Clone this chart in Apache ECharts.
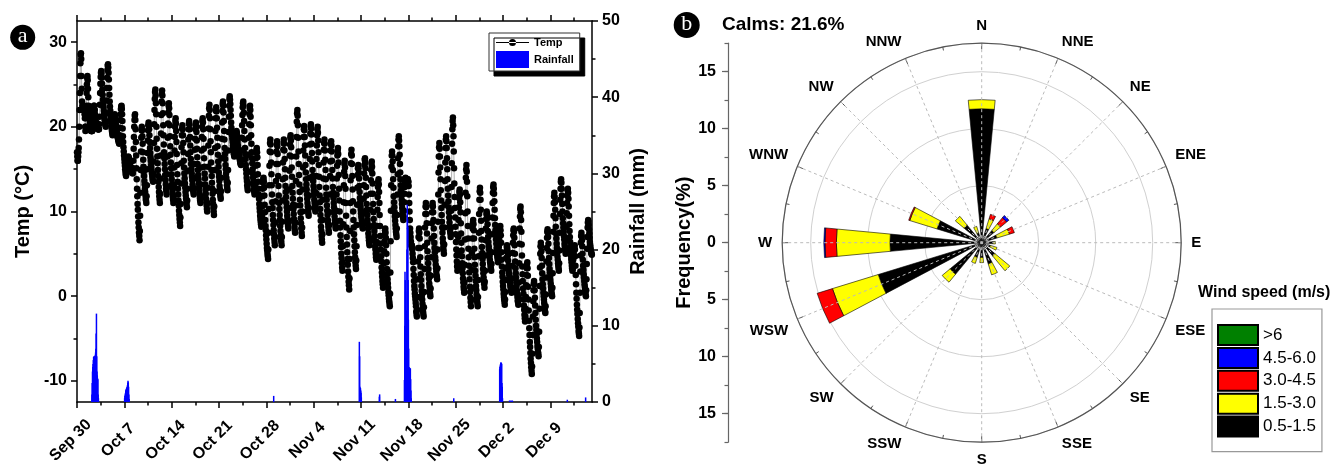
<!DOCTYPE html>
<html><head><meta charset="utf-8">
<script src="https://cdn.jsdelivr.net/npm/echarts@6/dist/echarts.min.js"></script>
<style>html,body{margin:0;padding:0;background:#fff}#c{width:1335px;height:468px}</style>
</head><body><div id="c"></div>
<script>
// ---------- DATA ----------
const xTickLabels = ['Sep 30','Oct 7','Oct 14','Oct 21','Oct 28','Nov 4','Nov 11','Nov 18','Nov 25','Dec 2','Dec 9'];
// hourly temperature (°C), starting Sep 30 00:00
const tempWeek1 = [
17,16.5,16,16,16.5,17,17.5,18.5,20,22,24,26,27.5,28.5,28.7,28,26,24.5,23,22.5,22,22,22,22,
22,22,22,21.5,21,20,19.5,20,21,22.5,24,25,25.8,26,25.5,24.5,23.5,22.5,22,21.5,21,21,20.5,20.5,
20,20,19.5,19.5,19.5,19.5,19.5,20,20.5,21,21.5,22,22.5,22.5,22,22,21.5,21,21,20.5,20.5,20,20,20,
20,20,19.7,19.7,19.7,19.7,19.7,20.3,21.2,22.6,24,25.1,25.9,26.4,26.6,26.3,25.8,25.1,24.4,23.8,23.2,22.7,22.3,21.9,
21.6,21.3,20.9,20.7,20.4,20.2,20,20.6,21.6,23.1,24.6,25.8,26.7,27.2,27.4,27,26.4,25.6,24.6,23.8,23,22.4,21.9,21.4,
21,20.6,20.2,19.8,19.5,19.3,19,19.2,19.6,20.1,20.6,21,21.3,21.4,21.5,21.3,21.1,20.7,20.3,20,19.7,19.4,19.2,19,
18.8,18.7,18.5,18.4,18.2,18.1,18,18.4,19,19.9,20.8,21.5,22.1,22.4,22.5,22.1,21.5,20.7,19.8,18.9,18.2,17.6,17.1,16.6];
const tempWeek2 = [
16.2,15.8,15.4,15,14.7,14.4,14.2,14.4,14.7,15.2,15.6,16,16.3,16.4,16.5,16.4,16.3,16.1,15.8,15.6,15.5,15.3,15.2,15.1,
15,14.9,14.8,14.7,14.6,14.6,14.5,15.1,16,17.4,18.8,20,20.8,21.3,21.5,20.8,19.7,18.2,16.6,15.1,13.8,12.7,11.8,10.9,
10.2,9.4,8.7,8.1,7.5,7.1,6.6,7.7,9.5,12.2,14.9,17.1,18.7,19.6,20,19.6,18.9,18,17,16.1,15.3,14.7,14.2,13.6,
13.2,12.7,12.3,11.9,11.5,11.3,11,11.8,13.1,15,16.9,18.4,19.6,20.2,20.5,20.2,19.7,19,18.2,17.5,16.9,16.4,16,15.5,
15.2,14.8,14.5,14.2,13.9,13.7,13.5,14.4,15.9,18.1,20.3,22,23.3,24.1,24.4,23.7,22.8,21.5,20,18.6,17.4,16.5,15.7,14.9,
14.2,13.5,12.9,12.3,11.8,11.4,11,12.1,13.9,16.6,19.2,21.4,23,23.9,24.3,23.7,22.8,21.6,20.2,19,17.9,17,16.3,15.6,
15,14.3,13.7,13.2,12.7,12.4,12,12.9,14.4,16.5,18.7,20.4,21.7,22.5,22.8,22.2,21.4,20.2,18.9,17.7,16.7,15.8,15.1,14.4];
const tempWeek3 = [
13.8,13.2,12.7,12.2,11.7,11.4,11,11.8,13.2,15.2,17.2,18.8,20,20.7,21,20.4,19.5,18.2,16.8,15.5,14.4,13.5,12.7,12,
11.3,10.7,10.1,9.6,9.1,8.7,8.3,9.3,10.9,13.3,15.7,17.6,19,19.8,20.2,19.7,19,18.1,17,16,15.2,14.5,13.9,13.3,
12.8,12.3,11.9,11.5,11.1,10.8,10.5,11.3,12.7,14.8,16.8,18.5,19.7,20.4,20.7,20.3,19.7,18.8,17.8,17,16.2,15.6,15,14.5,
14.1,13.7,13.2,12.9,12.5,12.3,12,12.7,13.9,15.6,17.3,18.6,19.7,20.2,20.5,20,19.4,18.4,17.4,16.4,15.6,14.9,14.3,13.8,
13.3,12.8,12.3,12,11.6,11.3,11,11.8,13.2,15.2,17.2,18.8,20,20.7,21,20.5,19.7,18.6,17.4,16.3,15.3,14.5,13.9,13.2,
12.6,12.1,11.5,11.1,10.7,10.3,10,11,12.8,15.3,17.8,19.8,21.3,22.2,22.6,22,21,19.7,18.3,17,15.8,14.9,14.2,13.4,
12.7,12.1,11.4,10.9,10.4,10,9.6,10.6,12.4,14.9,17.5,19.5,21,21.9,22.3,21.8,21,19.9,18.7,17.7,16.7,15.9,15.3,14.6];
const tempWeek4 = [
14.1,13.6,13,12.6,12.1,11.8,11.5,12.4,14,16.3,18.6,20.5,21.9,22.7,23,22.5,21.7,20.7,19.5,18.5,17.5,16.8,16.2,15.5,
15,14.5,14,13.6,13.1,12.8,12.5,13.4,14.9,17.2,19.4,21.2,22.5,23.3,23.6,23.2,22.7,22,21.3,20.5,19.9,19.4,19,18.6,
18.2,17.8,17.5,17.2,16.9,16.7,16.5,16.7,17.2,17.8,18.4,18.8,19.2,19.4,19.5,19.3,19,18.6,18.2,17.8,17.4,17.1,16.9,16.7,
16.5,16.3,16.1,15.9,15.7,15.6,15.5,16.1,17.2,18.7,20.2,21.4,22.3,22.8,23,22.5,21.7,20.7,19.5,18.5,17.5,16.8,16.2,15.5,
15,14.5,14,13.6,13.1,12.8,12.5,13.3,14.7,16.7,18.7,20.3,21.5,22.2,22.5,22,21.2,20.2,19,18,17,16.3,15.7,15,
14.5,14,13.5,13.1,12.6,12.3,12,12.4,13.2,14.3,15.4,16.3,17,17.3,17.5,17,16.4,15.5,14.4,13.5,12.7,12,11.5,10.9,
10.4,10,9.5,9.1,8.8,8.5,8.2,8.7,9.5,10.6,11.8,12.7,13.4,13.8,14,13.5,12.8,11.9,10.8,9.9,9,8.3,7.8,7.2];
const tempWeek5 = [
6.7,6.2,5.7,5.4,5,4.7,4.4,5.5,7.5,10.3,13.1,15.4,17.1,18.1,18.5,17.9,17,15.8,14.4,13.1,12,11.1,10.4,9.6,
9,8.4,7.8,7.3,6.8,6.4,6,7,8.7,11.2,13.6,15.6,17.1,17.9,18.3,17.7,16.8,15.6,14.2,13,11.9,11,10.3,9.6,
9,8.3,7.7,7.2,6.7,6.4,6,7,8.8,11.3,13.8,15.8,17.3,18.1,18.5,18,17.2,16.2,15,14,13,12.3,11.7,11,
10.5,10,9.5,9.1,8.6,8.3,8,8.9,10.4,12.6,14.8,16.6,17.9,18.7,19,18.4,17.6,16.5,15.2,14.1,13,12.2,11.5,10.8,
10.3,9.7,9.1,8.7,8.2,7.8,7.5,8.7,10.7,13.6,16.5,18.8,20.6,21.6,22,21.3,20.2,18.7,17.1,15.6,14.3,13.2,12.3,11.4,
10.7,9.9,9.2,8.6,8,7.5,7.1,8.1,10,12.6,15.2,17.2,18.8,19.7,20.1,19.6,18.8,17.8,16.6,15.5,14.6,13.8,13.2,12.6,
12,11.5,11,10.6,10.1,9.8,9.5,10.4,11.9,14,16.2,17.9,19.2,20,20.3,19.8,19.1,18,16.9,15.9,14.9,14.2,13.6,13];
const tempWeek6 = [
12.5,12,11.4,11,10.6,10.3,10,10.8,12.2,14.2,16.2,17.8,19,19.7,20,19.3,18.4,17,15.5,14.1,12.9,11.9,11.1,10.3,
9.6,8.9,8.2,7.7,7.1,6.7,6.3,7.3,9,11.4,13.9,15.8,17.3,18.1,18.5,18,17.2,16.1,14.9,13.8,12.8,12,11.4,10.7,
10.1,9.6,9,8.6,8.2,7.8,7.5,8.4,9.9,12,14.2,15.9,17.2,18,18.3,17.8,17.1,16,14.9,13.9,12.9,12.2,11.6,11,
10.5,10,9.4,9,8.6,8.3,8,8.8,10.1,12,13.9,15.4,16.6,17.2,17.5,16.8,15.8,14.3,12.7,11.3,10,8.9,8.1,7.2,
6.5,5.8,5,4.5,3.9,3.4,3,4,5.9,8.5,11.1,13.1,14.7,15.6,16,15.2,14.2,12.7,11,9.5,8.1,7,6.1,5.2,
4.4,3.7,2.9,2.3,1.7,1.3,0.8,2.1,4.4,7.7,11,13.7,15.7,16.8,17.3,16.6,15.6,14.2,12.6,11.2,10,9,8.1,7.3,
6.6,5.9,5.2,4.6,4,3.6,3.2,4.2,5.9,8.4,10.8,12.8,14.3,15.1,15.5,15.1,14.6,13.9,13,12.3,11.6,11.1,10.6,10.2];
const tempWeek7 = [
9.8,9.4,9.1,8.8,8.5,8.2,8,8.7,9.8,11.5,13.1,14.5,15.5,16.1,16.3,15.8,15.1,14,12.9,11.9,10.9,10.2,9.6,9,
8.5,8,7.4,7,6.6,6.3,6,6.8,8.2,10.2,12.1,13.7,14.9,15.6,15.9,15.3,14.5,13.3,12.1,10.9,9.9,9.1,8.4,7.7,
7.1,6.5,5.9,5.5,5,4.6,4.3,5.1,6.4,8.3,10.2,11.7,12.9,13.5,13.8,13.2,12.3,11,9.6,8.3,7.1,6.2,5.5,4.7,
4.1,3.4,2.8,2.3,1.8,1.4,1,1.6,2.5,3.9,5.3,6.5,7.3,7.8,8,7.5,6.9,6,5,4,3.2,2.6,2,1.5,
1,0.5,0.1,-0.3,-0.6,-0.9,-1.2,0.3,2.8,6.5,10.1,13.1,15.3,16.6,17.1,16.6,15.9,14.9,13.8,12.8,11.8,11.1,10.5,9.9,
9.4,8.9,8.4,8,7.6,7.3,7,8,9.6,12,14.4,16.3,17.7,18.5,18.9,18.4,17.7,16.7,15.6,14.6,13.8,13.1,12.5,11.9,
11.4,10.9,10.4,10,9.6,9.3,9,9.4,10.1,11.1,12.1,12.9,13.5,13.9,14,13.8,13.5,13.2,13,13.2,13.5,13.8,13.8,13.5];
const tempWeek8 = [
13.5,13,12,11,10,9,8,7.5,7,6.5,6,6,6,5.8,5.5,5,4.5,4,3.2,2.5,1.8,1.2,0.8,0.3,
0,-0.4,-0.8,-1.2,-1.8,-2.1,-2.4,-1.6,-0.1,2,4.1,5.7,7,7.7,8,7.5,6.8,5.7,4.6,3.5,2.6,1.9,1.2,0.6,
0.1,-0.4,-0.9,-1.4,-1.8,-2.1,-2.4,-1.3,0.5,3.2,5.9,8.1,9.7,10.6,11,10.5,9.7,8.6,7.4,6.3,5.3,4.5,3.9,3.2,
2.6,2.1,1.5,1.1,0.7,0.3,0,0.9,2.4,4.6,6.8,8.6,9.9,10.7,11,10.6,9.9,9,8,7.1,6.3,5.7,5.2,4.6,
4.2,3.7,3.3,2.9,2.5,2.3,2,3.3,5.5,8.8,12,14.6,16.5,17.6,18.1,17.4,16.5,15.2,13.8,12.5,11.3,10.4,9.6,8.8,
8.1,7.5,6.8,6.3,5.8,5.4,5,6.1,8.1,10.8,13.6,15.8,17.5,18.5,18.9,18.3,17.5,16.3,15,13.8,12.7,11.9,11.2,10.5,
9.9,9.3,8.7,8.2,7.7,7.4,7,8.1,10.1,12.9,15.7,18,19.7,20.7,21.1,20.2,18.9,17.1,15.1,13.3,11.7,10.4,9.3,8.2];
const tempWeek9 = [
7.3,6.4,5.5,4.8,4.1,3.5,3,3.8,5.1,7,9,10.5,11.6,12.3,12.6,12,11.1,9.9,8.6,7.4,6.3,5.4,4.7,3.9,
3.3,2.7,2.1,1.6,1.1,0.8,0.4,1.6,3.7,6.7,9.8,12.2,14,15,15.5,14.7,13.5,11.8,10,8.3,6.8,5.6,4.6,3.6,
2.8,2,1.1,0.5,-0.2,-0.7,-1.2,-0.4,1,3.1,5.1,6.8,8,8.7,9,8.5,7.8,6.8,5.6,4.6,3.7,3,2.4,1.8,
1.2,0.7,0.2,-0.2,-0.6,-0.9,-1.2,-0.1,1.9,4.7,7.5,9.7,11.4,12.4,12.8,12.2,11.4,10.2,8.9,7.7,6.7,5.8,5.1,4.4,
3.8,3.2,2.7,2.2,1.7,1.4,1,1.7,3,4.8,6.6,8,9.1,9.7,10,9.7,9.2,8.5,7.7,7,6.4,5.9,5.5,5,
4.7,4.3,4,3.7,3.4,3.2,3,3.8,5.2,7.3,9.3,11,12.2,12.9,13.2,12.7,12.1,11.2,10.2,9.2,8.4,7.8,7.2,6.7,
6.2,5.7,5.3,4.9,4.6,4.3,4,4.3,4.9,5.8,6.7,7.4,7.9,8.2,8.3,7.8,7.2,6.3,5.2,4.3,3.5,2.8,2.3,1.7];
const tempWeek10 = [
1.2,0.8,0.3,-0.1,-0.4,-0.7,-1,-0.4,0.5,1.9,3.3,4.5,5.3,5.8,6,5.7,5.3,4.8,4.2,3.6,3.1,2.7,2.4,2,
1.7,1.5,1.2,1,0.7,0.6,0.4,1,2.1,3.6,5.1,6.3,7.2,7.8,8,7.6,6.9,6,5,4.1,3.3,2.7,2.2,1.6,
1.2,0.7,0.3,-0.1,-0.5,-0.7,-1,-0.1,1.6,3.9,6.2,8,9.4,10.3,10.6,9.9,9,7.6,6.1,4.8,3.5,2.6,1.8,0.9,
0.3,-0.4,-1.1,-1.6,-2.2,-2.6,-3,-2.4,-1.5,-0.1,1.3,2.5,3.3,3.8,4,3.3,2.4,1.1,-0.4,-1.7,-2.9,-3.8,-4.6,-5.4,
-6,-6.7,-7.4,-7.9,-8.4,-8.8,-9.2,-8.3,-6.8,-4.6,-2.4,-0.6,0.7,1.5,1.8,1.4,0.7,-0.2,-1.1,-2,-2.8,-3.5,-4,-4.5,
-5,-5.4,-5.9,-6.2,-6.6,-6.8,-7.1,-6,-4.2,-1.5,1.2,3.4,5,5.9,6.3,5.9,5.3,4.5,3.6,2.7,2,1.4,0.9,0.4,
0,-0.4,-0.8,-1.2,-1.5,-1.8,-2,-1.2,0.2,2.2,4.1,5.7,6.9,7.6,7.9,7.5,7,6.2,5.3,4.5,3.8,3.2,2.8,2.3];
const tempWeek11 = [
1.9,1.5,1.1,0.8,0.5,0.2,0,1,2.7,5.1,7.6,9.5,11,11.8,12.2,11.7,11.1,10.2,9.2,8.2,7.4,6.8,6.2,5.7,
5.2,4.7,4.3,3.9,3.6,3.3,3,3.9,5.4,7.5,9.7,11.4,12.7,13.5,13.8,13.4,12.7,11.9,10.9,10,9.2,8.6,8.1,7.6,
7.1,6.7,6.2,5.9,5.5,5.3,5,5.6,6.7,8.2,9.8,11,11.9,12.5,12.7,12.2,11.5,10.6,9.5,8.5,7.7,7,6.4,5.8,
5.3,4.8,4.4,4,3.6,3.3,3,3.2,3.7,4.3,4.9,5.3,5.7,5.9,6,5.5,4.7,3.6,2.5,1.4,0.4,-0.3,-1,-1.6,
-2.1,-2.7,-3.2,-3.6,-4.1,-4.4,-4.7,-3.7,-2,0.4,2.9,4.8,6.3,7.1,7.5,7.1,6.6,5.9,5,4.3,3.6,3.1,2.6,2.2,
1.8,1.4,1.1,0.8,0.5,0.2,0,0.7,2,3.8,5.6,7,8.1,8.7,9,8.8,8.4,7.9,7.4,6.9,6.4,6.1,5.8,5.5,
5.3,5.1,5,4.9];
// hourly rainfall (mm): hour index since Sep 30 00:00, amount
const rainHour = [53,54,55,56,57,58,59,60,61,62,63,64,65,66,67,68,69,70,71,72,73,74,75,76,
169,170,171,172,173,174,175,176,177,178,179,180,181,182,183,184,185,
698,1002,1003,1004,1005,1006,1007,1008,1009,1073,1074,1130,
1162,1163,1164,1165,1166,1167,1168,1169,1170,1171,1172,1173,1174,1175,1176,1177,1178,1179,1180,1181,1182,1183,1184,1185,1186,
1337,1500,1501,1502,1503,1504,1505,1506,1507,1508,1509,1510,1535,1540,1545,1740,1805];
const rainMm = [1,2.5,4,4.6,5,5.5,5.9,6,5.9,5.8,6,6,6.2,6.5,7,9,11.6,6,4,3.5,3.1,3,1,0.5,
0.5,0.8,1,1.2,1.5,1.6,1.7,1.8,1.9,2,2.2,2.5,2.8,2.6,2,1,0.4,
0.8,7.9,6,2,1.8,1.8,1.5,1.2,0.6,0.7,1.0,0.4,
2.9,10,17.1,16,14.5,12,8,5.2,12,20,25.9,24,23,16,10.8,7,4.6,4.5,4.5,4.4,4.4,4.4,3,1.5,0.5,
0.5,4.3,4.6,4.8,5,5.2,5.2,5.1,5,2.5,2,0.5,0.2,0.2,0.2,0.3,0.6];
// wind rose (frequency %, by direction)
const directions = ['N','NNE','NE','ENE','E','ESE','SE','SSE','S','SSW','SW','WSW','W','WNW','NW','NNW'];
const speedClasses = ['0.5-1.5','1.5-3.0','3.0-4.5','4.5-6.0','>6'];
const freq0515 = [11.75,1.3,1.4,1.4,1.0,0.8,1.5,1.95,1.3,1.35,3.6,9.5,8.05,4.1,2.0,0.9];
const freq1530 = [0.8,0.9,0.75,1.15,0.2,0.6,1.7,1.0,0.45,0.55,0.9,4.2,4.7,2.5,1.0,0.6];
const freq3045 = [0,0.4,0.7,0.45,0,0,0,0,0,0,0,1.4,1.0,0.1,0,0];
const freq4560 = [0,0,0.25,0,0,0,0,0,0,0,0,0,0.1,0,0,0];
const freq6 = [0,0,0,0,0,0,0,0,0,0,0,0,0,0,0,0];
const speedColors = ['#000000','#ffff00','#ff0000','#0000ff','#008000'];
const yTempLabels = [-10,0,10,20,30];

// ---------- CHART ----------
const F = '"Liberation Sans", Arial, sans-serif';
const temp = [].concat(tempWeek1,tempWeek2,tempWeek3,tempWeek4,tempWeek5,tempWeek6,tempWeek7,tempWeek8,tempWeek9,tempWeek10,tempWeek11);
const tempData = temp.map((v,i)=>[i/24, v]);
const rainData = rainHour.map((h,i)=>[h/24, rainMm[i]]);
const windSets = [freq0515,freq1530,freq3045,freq4560,freq6];

const X0 = 77, TOP = 21, W = 515, H = 381, XMAX = 76.15;
const pxDay = W / XMAX;
const tY = v => TOP + (32.5 - v) * H / 45;
const CX = 981.7, CY = 242.7, R = 199.5, RMAX = 17.5, pxU = R / RMAX;

const blackLine = {color:'#000', width:1.5};
const lbl = {fontFamily:F, fontWeight:'bold', fontSize:16, color:'#000'};
const hideX = (g) => ({gridIndex:g, type:'value', show:false, min:0, max:1});
const hideY = (g) => ({gridIndex:g, type:'value', show:false, min:0, max:1});

const option = {
  animation:false,
  backgroundColor:'#fff',
  grid:[
    {left:X0, top:TOP, width:W, height:H, outerBoundsMode:'none'},
    {left:X0, top:TOP, width:70*pxDay, height:H, outerBoundsMode:'none'},
    {left:X0, top:TOP, width:73.5*pxDay, height:H, outerBoundsMode:'none'},
    {left:X0, top:tY(30), width:W, height:tY(-10)-tY(30), outerBoundsMode:'none'},
    {left:728, top:CY-RMAX*pxU, width:10, height:2*RMAX*pxU, outerBoundsMode:'none'},
    {left:728, top:CY-15*pxU, width:10, height:30*pxU, outerBoundsMode:'none'}
  ],
  xAxis:[
    {gridIndex:0, type:'value', min:0, max:XMAX, position:'bottom', axisLine:{onZero:false, lineStyle:blackLine}, axisTick:{show:false}, axisLabel:{show:false}, splitLine:{show:false}},
    {gridIndex:0, type:'value', min:0, max:XMAX, position:'top', axisLine:{onZero:false, lineStyle:blackLine}, axisTick:{show:false}, axisLabel:{show:false}, splitLine:{show:false}},
    {gridIndex:1, type:'value', min:0, max:70, interval:7, position:'bottom', axisLine:{show:false, onZero:false}, axisTick:{length:6, lineStyle:blackLine}, splitLine:{show:false},
      axisLabel:Object.assign({rotate:45, margin:32, align:'center', verticalAlign:'middle', padding:[0,18,0,0], formatter:v=>xTickLabels[Math.round(v/7)]||''}, lbl)},
    {gridIndex:1, type:'value', min:0, max:70, interval:7, position:'top', axisLine:{show:false, onZero:false}, axisTick:{length:6, lineStyle:blackLine}, axisLabel:{show:false}, splitLine:{show:false}},
    {gridIndex:2, type:'value', min:0, max:73.5, interval:3.5, position:'bottom', axisLine:{show:false, onZero:false}, axisTick:{length:3.5, lineStyle:blackLine}, axisLabel:{show:false}, splitLine:{show:false}},
    {gridIndex:2, type:'value', min:0, max:73.5, interval:3.5, position:'top', axisLine:{show:false, onZero:false}, axisTick:{length:3.5, lineStyle:blackLine}, axisLabel:{show:false}, splitLine:{show:false}},
    hideX(3), hideX(4), hideX(5)
  ],
  yAxis:[
    {gridIndex:0, type:'value', min:-12.5, max:32.5, position:'left', axisLine:{show:true, onZero:false, lineStyle:blackLine}, axisTick:{show:false}, axisLabel:{show:false}, splitLine:{show:false},
      name:'Temp (°C)', nameLocation:'middle', nameGap:44, nameRotate:90, nameTextStyle:{fontFamily:F, fontWeight:'bold', fontSize:20, color:'#000'}},
    {gridIndex:0, type:'value', min:0, max:50, interval:10, position:'right', axisLine:{show:true, onZero:false, lineStyle:blackLine}, axisTick:{length:6, lineStyle:blackLine},
      minorTick:{show:true, splitNumber:2, length:3.5, lineStyle:blackLine}, splitLine:{show:false}, minorSplitLine:{show:false},
      axisLabel:Object.assign({margin:10}, lbl),
      name:'Rainfall (mm)', nameLocation:'middle', nameGap:36, nameRotate:90, nameTextStyle:{fontFamily:F, fontWeight:'bold', fontSize:20, color:'#000'}},
    hideY(1), hideY(2),
    {gridIndex:3, type:'value', min:-10, max:30, interval:10, position:'left', axisLine:{show:false, onZero:false}, axisTick:{length:6, lineStyle:blackLine}, splitLine:{show:false},
      axisLabel:Object.assign({margin:10, formatter:v=>yTempLabels.indexOf(v)>=0?String(v):''}, lbl)},
    {gridIndex:3, type:'value', min:-10, max:30, interval:5, position:'left', axisLine:{show:false, onZero:false}, axisTick:{length:3.5, lineStyle:blackLine}, axisLabel:{show:false}, splitLine:{show:false}},
    {gridIndex:4, type:'value', min:-RMAX, max:RMAX, interval:2.5, position:'left', axisLine:{show:true, onZero:false, lineStyle:{color:'#666', width:1.2}}, axisTick:{length:3.5, lineStyle:{color:'#666', width:1.2}}, axisLabel:{show:false}, splitLine:{show:false}},
    {gridIndex:5, type:'value', min:-15, max:15, interval:5, position:'left', axisLine:{show:false, onZero:false}, axisTick:{length:6, lineStyle:{color:'#666', width:1.2}}, splitLine:{show:false},
      axisLabel:Object.assign({margin:12, formatter:v=>String(Math.abs(v))}, lbl),
      name:'Frequency(%)', nameLocation:'middle', nameGap:34, nameRotate:90, nameTextStyle:{fontFamily:F, fontWeight:'bold', fontSize:20, color:'#000'}}
  ],
  polar:[{center:[CX,CY], radius:R}, {center:[CX,CY], radius:R}],
  angleAxis:[
    {polarIndex:0, type:'category', data:directions, startAngle:101.25, clockwise:true, boundaryGap:true, z:3,
      axisLine:{show:true, lineStyle:{color:'#555', width:1.2}},
      axisTick:{show:true, inside:true, length:6, alignWithLabel:true, lineStyle:{color:'#555', width:1}},
      axisLabel:{show:true, margin:10, fontFamily:F, fontWeight:'bold', fontSize:15, color:'#000'},
      splitLine:{show:true, lineStyle:{color:'#bbb', width:1, type:[3,3]}}},
    {polarIndex:1, type:'category', data:directions, startAngle:101.25, clockwise:true, boundaryGap:true, z:3,
      axisLine:{show:false}, axisTick:{show:true, inside:true, length:3.5, lineStyle:{color:'#555', width:1}},
      axisLabel:{show:false}, splitLine:{show:false}}
  ],
  radiusAxis:[
    {polarIndex:0, type:'value', min:0, max:RMAX, interval:5, axisLine:{show:false}, axisTick:{show:false}, axisLabel:{show:false},
      splitLine:{show:true, lineStyle:{color:'#d0d0d0', width:1}}},
    {polarIndex:1, type:'value', min:0, max:RMAX, show:false}
  ],
  legend:[
    {left:489, top:33, orient:'vertical', selectedMode:false, itemWidth:33, itemHeight:17, itemGap:3, padding:[4,6,3,7],
      backgroundColor:'#fff', borderColor:'#333', borderWidth:1, shadowColor:'#000', shadowBlur:0, shadowOffsetX:5, shadowOffsetY:5,
      textStyle:{fontFamily:F, fontWeight:'bold', fontSize:11, color:'#000'},
      data:[{name:'Temp', icon:'path://M0,3h33v1h-33zM13,3.5a3.5,3.5,0,1,0,7,0a3.5,3.5,0,1,0,-7,0z'}, {name:'Rainfall', icon:'rect'}]},
    {left:1212, top:309, orient:'vertical', selectedMode:false, itemWidth:40, itemHeight:20, itemGap:0.9, padding:[15,6,14,5],
      backgroundColor:'#fff', borderColor:'#999', borderWidth:1.2, icon:'rect',
      textStyle:{fontFamily:F, fontSize:17, lineHeight:20, color:'#000'},
      data:speedClasses.slice().reverse()}
  ],
  graphic:[
    {type:'circle', shape:{cx:22.7, cy:37.3, r:12.5}, style:{fill:'#000'}, z:100},
    {type:'text', x:22.7, y:36.5, z:101, style:{text:'a', font:'22px "Liberation Serif", serif', fill:'#fff', align:'center', verticalAlign:'middle', textAlign:'center', textVerticalAlign:'middle'}},
    {type:'circle', shape:{cx:686.7, cy:25, r:13}, style:{fill:'#000'}, z:100},
    {type:'text', x:686.7, y:24.5, z:101, style:{text:'b', font:'22px "Liberation Serif", serif', fill:'#fff', align:'center', verticalAlign:'middle', textAlign:'center', textVerticalAlign:'middle'}},
    {type:'text', x:722, y:25, z:101, style:{text:'Calms: 21.6%', font:'bold 19px "Liberation Sans", Arial, sans-serif', fill:'#000', verticalAlign:'middle', textVerticalAlign:'middle'}},
    {type:'text', x:1198, y:293, z:101, style:{text:'Wind speed (m/s)', font:'bold 16px "Liberation Sans", Arial, sans-serif', fill:'#000', verticalAlign:'middle', textVerticalAlign:'middle'}}
  ],
  series:[
    {name:'Temp', type:'line', xAxisIndex:0, yAxisIndex:0, data:tempData, symbol:'circle', symbolSize:6.5, showSymbol:true, silent:true,
      itemStyle:{color:'#000', borderWidth:0}, lineStyle:{color:'#999', width:0.8}, z:2},
    {name:'Rainfall', type:'bar', xAxisIndex:0, yAxisIndex:1, data:rainData, barWidth:1.5, silent:true,
      itemStyle:{color:'#0000ff'}, z:3}
  ].concat(speedClasses.map((name,k)=>({
      name:name, type:'bar', coordinateSystem:'polar', polarIndex:0, stack:'wind', barWidth:'48%', silent:true,
      data:windSets[k].map(v=>v>0?v:null),
      itemStyle:{color:speedColors[k], borderColor:'#000', borderWidth:0.6}
  })))
};
const chart = echarts.init(document.getElementById('c'), null, {renderer:'canvas'});
chart.setOption(option);
</script>
</body></html>
